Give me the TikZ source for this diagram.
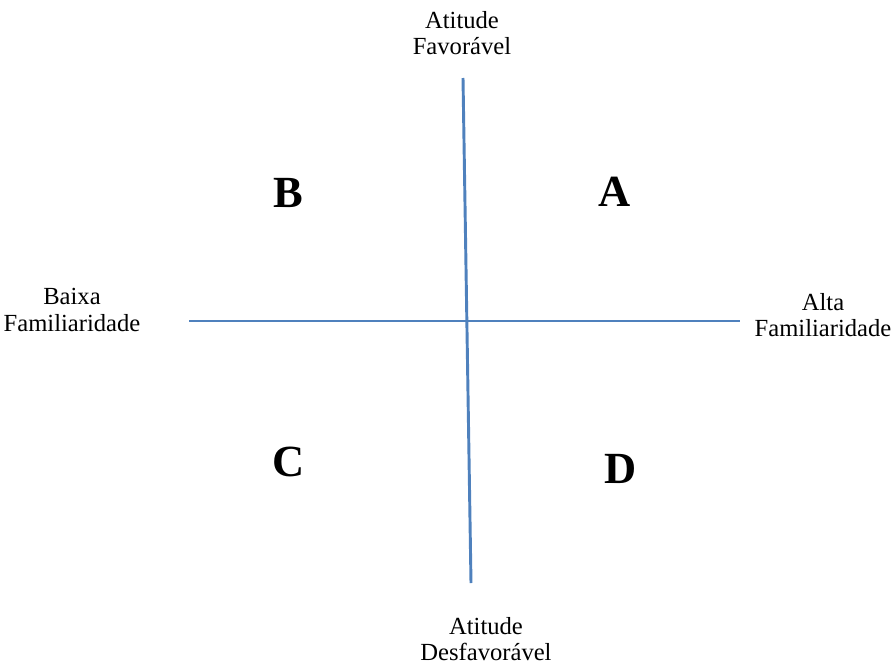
\documentclass[tikz,border=0pt]{standalone}
\usepackage{fontspec}
\setmainfont{Liberation Serif}
\usepackage{tikz}
\usepackage{xcolor}
\usetikzlibrary{positioning}
\definecolor{axisblue}{HTML}{4F81BD}

\tikzset{
    axisline/.style={axisblue,line width=2.5pt},
    axislabel/.style={align=center,inner sep=0pt,font=\fontsize{21}{22.8}\selectfont},
    quadrant/.style={inner sep=0pt,font=\fontsize{38}{40}\selectfont\bfseries}
}

\begin{document}
\begin{tikzpicture}[x=0.03cm,y=-0.03cm]
    \useasboundingbox (0,0) rectangle (893,666);
    % axes
    \coordinate (top) at (463,78);
    \coordinate (bottom) at (471,583);
    \coordinate (left) at (189,321);
    \coordinate (right) at (740,321);
    \draw[axisline] (top) -- (bottom);
    \draw[axisline] (left) -- (right);
    % axis labels
    \node[axislabel] (fav) at (462,33) {Atitude\\Favorável};
    \node[axislabel] (desfav) at (486,639) {Atitude\\Desfavorável};
    \node[axislabel] (baixa) at (72,310) {Baixa\\Familiaridade};
    \node[axislabel] (alta) at (823,315) {Alta\\Familiaridade};
    % quadrants
    \node[quadrant] (qA) at (615,192) {A};
    \node[quadrant] (qB) at (288,193) {B};
    \node[quadrant] (qC) at (289,462) {C};
    \node[quadrant] (qD) at (621,469) {D};
\end{tikzpicture}
\end{document}
